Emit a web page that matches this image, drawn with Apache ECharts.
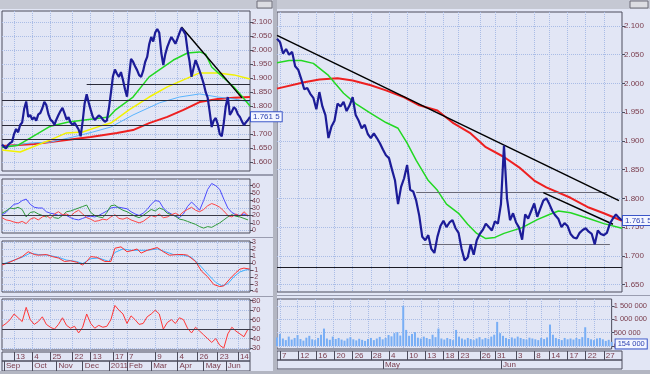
<!DOCTYPE html>
<html><head><meta charset="utf-8">
<script src="https://cdn.jsdelivr.net/npm/echarts@6/dist/echarts.min.js"></script>
<style>html,body{margin:0;padding:0;background:#e2e6f5}#c{width:650px;height:374px}</style>
</head><body><div id="c"></div><script>
// ---------- LEFT WINDOW DATA (Sep 2010 - Jun 2011) ----------
const leftClose = [1.662,1.655,1.648,1.661,1.668,1.672,1.700,1.718,1.706,1.732,
1.741,1.790,1.816,1.761,1.768,1.752,1.760,1.748,1.770,1.775,
1.792,1.815,1.803,1.771,1.752,1.745,1.733,1.752,1.768,1.782,
1.793,1.774,1.752,1.760,1.741,1.733,1.740,1.728,1.716,1.692,
1.745,1.810,1.842,1.812,1.786,1.762,1.750,1.758,1.766,1.761,
1.752,1.744,1.748,1.790,1.846,1.905,1.930,1.915,1.904,1.921,
1.893,1.860,1.833,1.905,1.968,1.958,1.942,1.928,1.910,1.904,
1.925,1.957,1.975,2.020,2.046,2.030,2.062,2.075,2.061,1.990,
1.946,1.985,2.011,2.030,2.046,2.035,2.022,2.040,2.060,2.079,
2.068,2.055,2.000,1.960,1.904,1.935,1.964,1.945,1.925,1.904,
1.880,1.850,1.830,1.780,1.725,1.748,1.757,1.735,1.700,1.692,
1.740,1.800,1.832,1.768,1.780,1.796,1.788,1.770,1.761,1.745,
1.732,1.742,1.750,1.7615];
const leftMaGreen = [[0,1.652],[8,1.660],[15,1.690],[24,1.728],[33,1.743],[41,1.750],[49,1.757],[53,1.761],[56,1.784],[65,1.832],[73,1.904],[80,1.939],[85,1.964],[92,1.989],[98,1.993],[101,1.985],[104,1.939],[110,1.900],[115,1.868],[119,1.835],[123,1.800]];
const leftMaYellow = [[0,1.643],[9,1.636],[24,1.679],[32,1.704],[40,1.707],[49,1.729],[54,1.739],[63,1.786],[73,1.832],[82,1.868],[90,1.893],[98,1.918],[107,1.918],[115,1.911],[123,1.896]];
const leftMaBlue = [[0,1.654],[14,1.668],[24,1.671],[35,1.689],[45,1.707],[54,1.725],[65,1.768],[78,1.811],[88,1.832],[98,1.843],[107,1.832],[115,1.825],[123,1.814]];
const leftMaRed = [[0,1.657],[16,1.664],[32,1.679],[44,1.689],[57,1.704],[65,1.714],[73,1.739],[82,1.761],[90,1.786],[98,1.814],[107,1.825],[115,1.829],[123,1.832]];
const leftTrend = [[89,2.082],[119,1.829]];
const leftLevels = [1.818,1.725,1.682];
const leftPartialLevel = {from:42, to:123, value:1.879};
// indicators, one value every 2 bars
const adxBlue = [21,24,30,35,36,40,42,35,31,30,30,25,23,22,20,21,20,17,15,14,16,18,19,18,20,23,26,30,31,31,30,29,25,22,20,23,28,35,40,39,30,25,22,19,17,22,32,38,33,27,40,55,63,60,55,42,30,24,21,20,22,19];
const adxRed = [17,14,13,11,10,12,9,15,17,14,18,20,16,22,25,21,22,19,24,27,22,17,15,12,13,15,14,18,21,16,15,17,14,12,10,12,16,20,18,22,17,18,21,23,20,25,28,31,27,25,28,33,36,34,31,26,20,18,22,19,25,20];
const adxGreen = [23,26,30,29,31,28,18,24,25,22,20,18,21,17,16,20,25,26,28,30,32,34,24,20,18,17,24,33,34,30,27,25,22,19,17,20,24,28,26,30,28,23,21,19,15,14,12,10,8,5,3,5,4,7,10,14,18,21,19,18,16,14];
const macdRed = [[0,-0.3],[3,0.0],[7,0.5],[10,0.9],[13,1.6],[16,1.2],[18,1.1],[22,1.2],[25,0.9],[28,0.7],[31,0.2],[34,0.3],[37,0.1],[40,-0.3],[42,0.2],[44,0.9],[47,0.8],[51,0.2],[54,0.2],[56,2.1],[59,2.3],[62,1.6],[65,1.8],[67,2.0],[69,1.4],[72,1.8],[77,2.2],[80,1.6],[83,1.1],[87,1.2],[90,1.2],[92,1.1],[96,0.2],[99,-1.2],[102,-2.0],[105,-3.1],[108,-3.4],[110,-3.3],[113,-2.3],[116,-1.4],[118,-0.9],[120,-0.75],[123,-0.9]];
const macdBlue = [[0,-0.2],[5,0.3],[10,0.8],[14,1.4],[18,1.2],[23,1.1],[28,0.8],[32,0.4],[37,0.2],[40,-0.1],[44,0.6],[48,0.7],[53,0.2],[56,1.5],[60,2.0],[64,1.8],[68,1.8],[72,1.8],[77,2.0],[81,1.6],[85,1.2],[90,1.1],[94,0.8],[98,-0.3],[102,-1.6],[106,-2.8],[109,-3.3],[112,-3.0],[115,-2.0],[118,-1.3],[121,-1.0],[123,-0.95]];
const rsiRed = [53,56,60,66,62,58,73,60,55,58,63,55,52,50,55,62,54,51,53,46,52,66,56,51,54,52,53,60,75,70,66,56,64,60,55,56,63,66,70,66,50,57,60,56,62,60,51,46,52,48,44,40,36,40,33,30,45,52,48,45,42,50];
const leftDayIdx = [6,15,24,35,44,55,62,76,87,97,107,117];
const leftDayLabels = ['13','4','25','22','13','17','7','9','4','26','23','14'];
const leftMonthIdx = [1,15,27,40,53,62,74,87,100,111];
const leftMonthLabels = ['Sep','Oct','Nov','Dec','2011','Feb','Mar','Apr','May','Jun'];
const leftPriceTicks = [1.6,1.65,1.7,1.75,1.8,1.85,1.9,1.95,2.0,2.05,2.1];
const adxTicks = [0,10,20,30,40,50,60];
const macdTicks = [-4,-3,-2,-1,0,1,2,3];
const rsiTicks = [30,40,50,60,70,80];

// ---------- RIGHT WINDOW DATA (Apr - Jun 2011) ----------
const rightClose = [2.078,2.072,2.052,2.060,2.050,2.055,2.030,2.024,2.008,1.990,
1.992,1.982,1.975,1.955,1.985,1.960,1.945,1.905,1.925,1.935,
1.965,1.960,1.968,1.952,1.962,1.976,1.945,1.935,1.922,1.928,
1.912,1.905,1.913,1.905,1.896,1.885,1.875,1.870,1.850,1.831,
1.790,1.820,1.835,1.858,1.815,1.812,1.796,1.770,1.733,1.727,
1.736,1.712,1.705,1.733,1.752,1.761,1.750,1.758,1.762,1.748,
1.740,1.712,1.692,1.697,1.720,1.702,1.727,1.738,1.745,1.756,
1.750,1.744,1.760,1.756,1.790,1.892,1.800,1.762,1.774,1.758,
1.749,1.728,1.772,1.765,1.778,1.791,1.768,1.782,1.796,1.800,
1.790,1.778,1.770,1.764,1.750,1.757,1.752,1.738,1.732,1.730,
1.740,1.745,1.748,1.742,1.738,1.720,1.744,1.738,1.736,1.740,
1.756,1.765,1.772,1.766,1.7615];
const rightVolume = [320000,450000,280000,220000,350000,240000,300000,410000,260000,200000,
310000,380000,250000,220000,300000,420000,650000,280000,230000,350000,
260000,300000,240000,200000,280000,330000,250000,210000,270000,230000,
190000,260000,300000,220000,280000,340000,250000,300000,410000,360000,
480000,520000,390000,1500000,600000,380000,450000,520000,310000,280000,
350000,300000,260000,420000,330000,650000,280000,240000,300000,260000,
220000,600000,350000,280000,240000,300000,260000,220000,280000,330000,
250000,300000,270000,350000,420000,900000,480000,380000,300000,260000,
320000,280000,350000,300000,260000,240000,310000,280000,250000,220000,
300000,260000,320000,800000,420000,300000,260000,220000,300000,250000,
280000,240000,300000,260000,330000,700000,300000,250000,220000,280000,
300000,250000,190000,230000,154000];
const rightMaGreen = [[0,2.036],[4,2.040],[8,2.040],[12,2.035],[17,2.014],[22,1.983],[26,1.965],[31,1.948],[36,1.932],[40,1.922],[43,1.896],[46,1.866],[50,1.831],[53,1.814],[56,1.790],[60,1.774],[63,1.755],[66,1.739],[69,1.730],[72,1.732],[75,1.739],[81,1.749],[86,1.763],[90,1.772],[93,1.778],[97,1.775],[103,1.765],[108,1.756],[114,1.748]];
const rightMaRed = [[0,1.991],[9,2.002],[14,2.007],[20,2.009],[25,2.005],[31,1.997],[36,1.988],[42,1.976],[47,1.962],[53,1.953],[58,1.932],[64,1.913],[69,1.889],[75,1.872],[80,1.854],[85,1.831],[89,1.819],[97,1.801],[103,1.784],[108,1.774],[114,1.761]];
const rightTrendLong = [[0,2.0838],[113,1.796]];
const rightTrendShort = [[88,1.810],[111,1.755]];
const rightLevels = [{from:46,to:109,value:1.810},{from:48,to:110,value:1.720}];
const rightBaseLevel = 1.680;
const rightDayIdx = [1,7,13,19,25,31,37,43,49,55,60,67,72,79,85,90,96,102,108];
const rightDayLabels = ['7','12','16','20','26','28','4','10','13','18','23','26','31','3','8','14','17','22','27'];
const rightMonthIdx = [35,74];
const rightMonthLabels = ['May','Jun'];
const rightPriceTicks = [1.65,1.7,1.75,1.8,1.85,1.9,1.95,2.0,2.05,2.1];
const volTicks = [0,500000,1000000,1500000];
const lastPriceText = '1.761 5';
const lastVolText = '154 000';

// ---------- BUILD ----------
const FONT = 'Liberation Sans';
const LBL = '#7a3c4c';
const GRIDC = '#a9bce6';
const BORDER = '#4c4c5c';
const leftCats = leftClose.map((_, i) => String(i));
const rightCats = rightClose.map((_, i) => String(i));
const step2 = arr => arr.map((v, k) => [2 * k, v]);
const f3 = v => v.toFixed(3);
const fInt = v => String(v);
const fVol = v => String(v).replace(/\B(?=(\d{3})+(?!\d))/g, ' ');

const grids = [
  {left:2, top:11, width:248, height:160},   //0 left main
  {left:2, top:179, width:248, height:54},   //1 adx
  {left:2, top:241, width:248, height:51},   //2 macd
  {left:2, top:299, width:248, height:51},   //3 rsi
  {left:2, top:352, width:248, height:9},    //4 day row
  {left:2, top:361, width:248, height:10},   //5 month row
  {left:277, top:12, width:345, height:280}, //6 right main
  {left:277, top:299, width:345, height:50}, //7 volume
  {left:277, top:351, width:345, height:9},  //8 day row
  {left:277, top:360, width:345, height:9}   //9 month row
].map(g => Object.assign({show:true, borderColor:BORDER, borderWidth:1, backgroundColor:'transparent'}, g));

function xAx(grid, cats, idx) {
  return {gridIndex:grid, type:'category', data:cats, boundaryGap:false,
    axisLine:{show:false}, axisTick:{show:false}, axisLabel:{show:false},
    splitLine:{show:true, interval:(i) => idx.includes(i), lineStyle:{color:GRIDC, type:'dotted', width:1}}};
}
function rowAx(grid, cats, idx, labels) {
  return {gridIndex:grid, type:'category', data:cats, boundaryGap:false, position:'top',
    axisLine:{show:false}, axisTick:{show:false},
    axisLabel:{show:true, inside:true, interval:(i) => idx.includes(i), hideOverlap:false,
      formatter:(v, i) => { const k = idx.indexOf(i); return k >= 0 ? labels[k] : ''; },
      align:'left', verticalAlign:'top', margin:1, padding:[0,0,0,2], color:LBL, fontSize:8, fontFamily:FONT},
    splitLine:{show:true, interval:(i) => idx.includes(i), lineStyle:{color:BORDER, width:1}}};
}
function yAx(grid, min, max, ticks, fmt, fs) {
  const size = fs || 8;
  return {gridIndex:grid, type:'value', position:'right', min:min, max:max,
    axisLine:{show:false},
    axisTick:{show:true, customValues:ticks, length:3, lineStyle:{color:BORDER}},
    axisLabel:{show:true, customValues:ticks, formatter:fmt, color:LBL, fontSize:size, lineHeight:size - 2, fontFamily:FONT, margin:2,
      hideOverlap:false, showMinLabel:true, showMaxLabel:true},
    splitLine:{show:true, lineStyle:{color:GRIDC, type:'dotted', width:1}}};
}
function hiddenY(grid) { return {gridIndex:grid, type:'value', show:false, min:0, max:1, splitLine:{show:false}}; }

const xAxes = [
  xAx(0, leftCats, leftDayIdx), xAx(1, leftCats, leftDayIdx), xAx(2, leftCats, leftDayIdx), xAx(3, leftCats, leftDayIdx),
  rowAx(4, leftCats, leftDayIdx, leftDayLabels), rowAx(5, leftCats, leftMonthIdx, leftMonthLabels),
  xAx(6, rightCats, rightDayIdx), xAx(7, rightCats, rightDayIdx),
  rowAx(8, rightCats, rightDayIdx, rightDayLabels), rowAx(9, rightCats, rightMonthIdx, rightMonthLabels)
];
const yAxes = [
  yAx(0, 1.568, 2.139, leftPriceTicks, f3),
  yAx(1, -3.6, 69, adxTicks, fInt, 7),
  yAx(2, -4.18, 3.14, macdTicks, fInt, 7),
  yAx(3, 28, 81.8, rsiTicks, fInt, 7.5),
  hiddenY(4), hiddenY(5),
  yAx(6, 1.637, 2.1244, rightPriceTicks, f3),
  yAx(7, -112000, 1754000, volTicks, fVol, 7.5),
  hiddenY(8), hiddenY(9)
];

function ln(xi, yi, data, color, width, z) {
  return {type:'line', xAxisIndex:xi, yAxisIndex:yi, data:data, showSymbol:false, symbol:'none',
    lineStyle:{color:color, width:width}, z:z || 2, silent:true, animation:false};
}
function hLine(v, color) { return {yAxis:v, lineStyle:{color:color}}; }
const mlBase = {symbol:['none','none'], silent:true, animation:false, label:{show:false}, lineStyle:{type:'solid', width:1}};

const endLbl = {show:true, formatter:lastPriceText, distance:1, color:'#2a3fb0', fontSize:8, fontFamily:FONT,
  backgroundColor:'#f4f6ff', borderColor:'#3a55c8', borderWidth:1, padding:[1,2,0,2]};

const leftRed = ln(0, 0, leftMaRed, '#ee2020', 2, 3);
leftRed.markLine = Object.assign({}, mlBase, {data:[
  ...leftLevels.map(v => hLine(v, '#2a2a38')),
  [{coord:[leftPartialLevel.from, leftPartialLevel.value], lineStyle:{color:'#2a2a38'}}, {coord:[leftPartialLevel.to, leftPartialLevel.value]}]
]});
const leftPrice = ln(0, 0, leftClose, '#1c1c98', 2.2, 6);
leftPrice.endLabel = endLbl;

const adxB = ln(1, 1, step2(adxBlue), '#4b4bff', 1, 3);
adxB.markLine = Object.assign({}, mlBase, {data:[hLine(20, '#3a3a48')]});
const macdR = ln(2, 2, macdRed, '#ff3030', 1, 4);
macdR.markLine = Object.assign({}, mlBase, {data:[hLine(0, '#3a3a48')]});
const rsi = ln(3, 3, step2(rsiRed), '#ff3535', 1, 3);
rsi.markLine = Object.assign({}, mlBase, {data:[hLine(50, '#3a3a48')]});

const rightRed = ln(6, 6, rightMaRed, '#ee2020', 2, 3);
rightRed.markLine = Object.assign({}, mlBase, {data:[
  ...rightLevels.map(l => [{coord:[l.from, l.value], lineStyle:{color:'#6a6a78'}}, {coord:[l.to, l.value]}]),
  hLine(rightBaseLevel, '#1a1a24')
]});
const rightPrice = ln(6, 6, rightClose, '#1c1c98', 2.2, 6);
rightPrice.endLabel = endLbl;

const volData = rightVolume.map((v, i) => i === rightVolume.length - 1 ?
  {value:v, label:{show:true, position:'right', distance:3, formatter:lastVolText, color:'#2a3fb0', fontSize:7.5, fontFamily:FONT,
    backgroundColor:'#f4f6ff', borderColor:'#3a55c8', borderWidth:1, padding:[1,2,0,2]}} : v);

const graphics = [
  {type:'rect', shape:{x:0,y:0,width:273,height:9}, style:{fill:'#c5c8d3'}, z:0},
  {type:'rect', shape:{x:277,y:0,width:373,height:9}, style:{fill:'#c5c8d3'}, z:0},
  {type:'rect', shape:{x:257,y:1,width:15,height:7}, style:{fill:'#dcdde2', stroke:'#6c6c78'}, z:1},
  {type:'rect', shape:{x:630,y:1,width:18,height:7}, style:{fill:'#dcdde2', stroke:'#6c6c78'}, z:1},
  {type:'rect', shape:{x:273,y:0,width:4,height:374}, style:{fill:'#b3b6c2'}, z:0},
  {type:'line', shape:{x1:0,y1:175,x2:273,y2:175}, style:{stroke:'#9a9db0', lineWidth:2}, z:0},
  {type:'line', shape:{x1:0,y1:237.5,x2:273,y2:237.5}, style:{stroke:'#9a9db0', lineWidth:1}, z:0},
  {type:'line', shape:{x1:0,y1:296.5,x2:273,y2:296.5}, style:{stroke:'#9a9db0', lineWidth:1}, z:0},
  {type:'line', shape:{x1:277,y1:295.5,x2:650,y2:295.5}, style:{stroke:'#9a9db0', lineWidth:1}, z:0},
  {type:'rect', shape:{x:0,y:371,width:273,height:3}, style:{fill:'#b3b6c2'}, z:0},
  {type:'rect', shape:{x:277,y:370,width:373,height:4}, style:{fill:'#b3b6c2'}, z:0}
];

const option = {
  backgroundColor:'#e2e6f5',
  animation:false,
  graphic:graphics,
  grid:grids,
  xAxis:xAxes,
  yAxis:yAxes,
  series:[
    leftRed,
    ln(0, 0, leftMaBlue, '#5ab4ff', 1, 3),
    ln(0, 0, leftMaYellow, '#f2f200', 1.5, 3),
    ln(0, 0, leftMaGreen, '#22d822', 1.5, 4),
    ln(0, 0, leftTrend, '#000000', 1.5, 5),
    leftPrice,
    adxB,
    ln(1, 1, step2(adxGreen), '#2f9a3a', 1, 3),
    ln(1, 1, step2(adxRed), '#ff4545', 1, 3),
    ln(2, 2, macdBlue, '#3fb0ff', 1, 3),
    macdR,
    rsi,
    rightRed,
    ln(6, 6, rightMaGreen, '#22d822', 1.5, 4),
    ln(6, 6, rightTrendLong, '#000000', 1.5, 5),
    ln(6, 6, rightTrendShort, '#000000', 1.5, 5),
    rightPrice,
    {type:'bar', xAxisIndex:7, yAxisIndex:7, data:volData, barWidth:2, itemStyle:{color:'#78aef5'}, silent:true, animation:false}
  ]
};
const chart = echarts.init(document.getElementById('c'), null, {renderer:'canvas'});
chart.setOption(option);
</script></body></html>
